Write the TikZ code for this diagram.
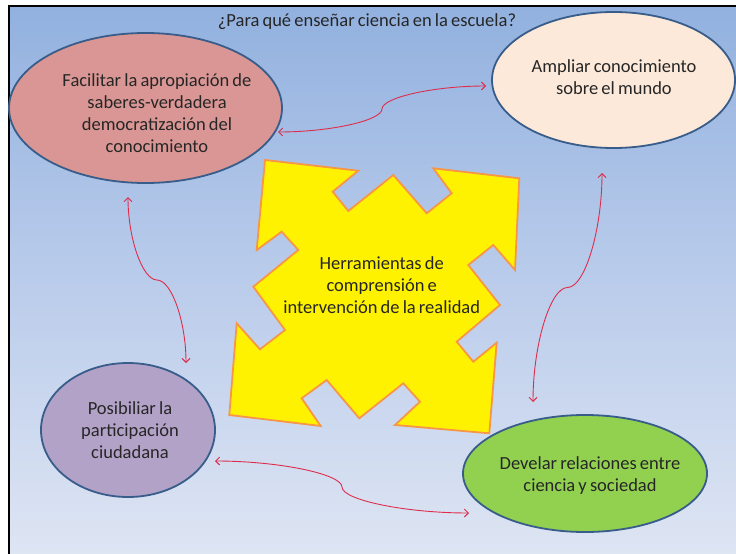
\documentclass[tikz,border=0pt]{standalone}
\usepackage{fontspec}
\setmainfont{Carlito}[WordSpace=0.75]
\usetikzlibrary{shapes.geometric,arrows.meta}
\definecolor{bgtop}{RGB}{146,177,223}
\definecolor{bgmid}{RGB}{186,204,235}
\definecolor{bgbot}{RGB}{222,229,243}
\definecolor{ellline}{RGB}{56,93,138}
\definecolor{redf}{RGB}{217,150,148}
\definecolor{peachf}{RGB}{253,233,217}
\definecolor{purplef}{RGB}{179,162,199}
\definecolor{greenf}{RGB}{146,208,80}
\definecolor{starline}{RGB}{247,150,70}
\definecolor{connc}{RGB}{222,45,75}
\definecolor{txt}{RGB}{38,38,38}
\begin{document}
\begin{tikzpicture}[x=1pt,y=-1pt,
  ell/.style={ellipse,draw=ellline,line width=1.8pt,inner sep=0pt},
  lbl/.style={align=center,text=txt,font=\fontsize{18.5}{22}\selectfont,inner sep=0pt},
  conn/.style={draw=connc,line width=0.9pt,{Straight Barb[length=4pt,width=8pt]}-{Straight Barb[length=4pt,width=8pt]}},
  starshape/.style={fill=yellow,draw=starline,line width=1.8pt,line join=miter}]
\useasboundingbox (0,0) rectangle (736,554);
\fill[white] (0,0) rectangle (736,554);
\shade[top color=bgtop,bottom color=bgbot,middle color=bgmid] (9,6) rectangle (736,554);
\draw[line width=1.6pt] (9,554) -- (9,6) -- (736,6);

\node[lbl] (title) at (367,22) {¿Para qué enseñar ciencia en la escuela?};

% ellipses
\node[ell,fill=redf,minimum width=273pt,minimum height=150pt] (e1) at (145.5,108) {};
\node[ell,fill=peachf,minimum width=243pt,minimum height=136pt] (e2) at (613.5,80) {};
\node[ell,fill=purplef,minimum width=174pt,minimum height=134pt] (e3) at (128,430) {};
\node[ell,fill=greenf,minimum width=244pt,minimum height=117pt] (e4) at (585,473.5) {};

\node[lbl] (t1) at (157,113.5) {Facilitar la apropiación de\\saberes-verdadera\\democratización del\\conocimiento};
\node[lbl] (t2) at (614,77.5) {Ampliar conocimiento\\sobre el mundo};
\node[lbl] (t3) at (130,430) {Posibiliar la\\participación\\ciudadana};
\node[lbl] (t4) at (590,476) {Develar relaciones entre\\ciencia y sociedad};

% central shape
\draw[starshape] (265,160) -- (358.3,170.7) -- (332.7,191.7) -- (348.3,211) -- (393.3,175)
 -- (426.7,213.3) -- (451.7,193.3) -- (433.3,168.3) -- (519.3,178.3)
 -- (515,270) -- (493.3,245) -- (468.3,265) -- (500,305) -- (456.7,341.7)
 -- (473.3,361.7) -- (496.7,342.7) -- (489.3,433.3)
 -- (395,425) -- (420,401.7) -- (403.3,383.3) -- (359.3,418.3) -- (326.7,380)
 -- (301.7,398.3) -- (320.7,426) -- (229.3,415)
 -- (236.7,323.3) -- (260,349.3) -- (285,330) -- (253.3,286.7) -- (298.3,250)
 -- (281.7,231.7) -- (256.7,250) -- cycle;
\node[lbl] (center) at (381.7,285.5) {Herramientas de\\comprensión e\\intervención de la realidad};

% connector end points
\coordinate (a1s) at (278,132); \coordinate (a1m) at (382,109); \coordinate (a1e) at (486,86);
\coordinate (a2s) at (128,197); \coordinate (a2m) at (157,280); \coordinate (a2e) at (186,363);
\coordinate (a3s) at (602,173); \coordinate (a3m) at (567.5,287.5); \coordinate (a3e) at (533,402);
\coordinate (a4s) at (215,461); \coordinate (a4m) at (342,487); \coordinate (a4e) at (469,513);

\draw[conn] (a1s) .. controls (330,132) and (382,120.5) .. (a1m) .. controls (382,97.5) and (434,86) .. (a1e);
\draw[conn] (a2s) .. controls (128,238.5) and (142.5,280) .. (a2m) .. controls (171.5,280) and (186,321.5) .. (a2e);
\draw[conn] (a3s) .. controls (602,230.25) and (584.75,287.5) .. (a3m) .. controls (550.25,287.5) and (533,344.75) .. (a3e);
\draw[conn] (a4s) .. controls (278.5,461) and (342,474) .. (a4m) .. controls (342,500) and (405.5,513) .. (a4e);
\end{tikzpicture}
\end{document}
